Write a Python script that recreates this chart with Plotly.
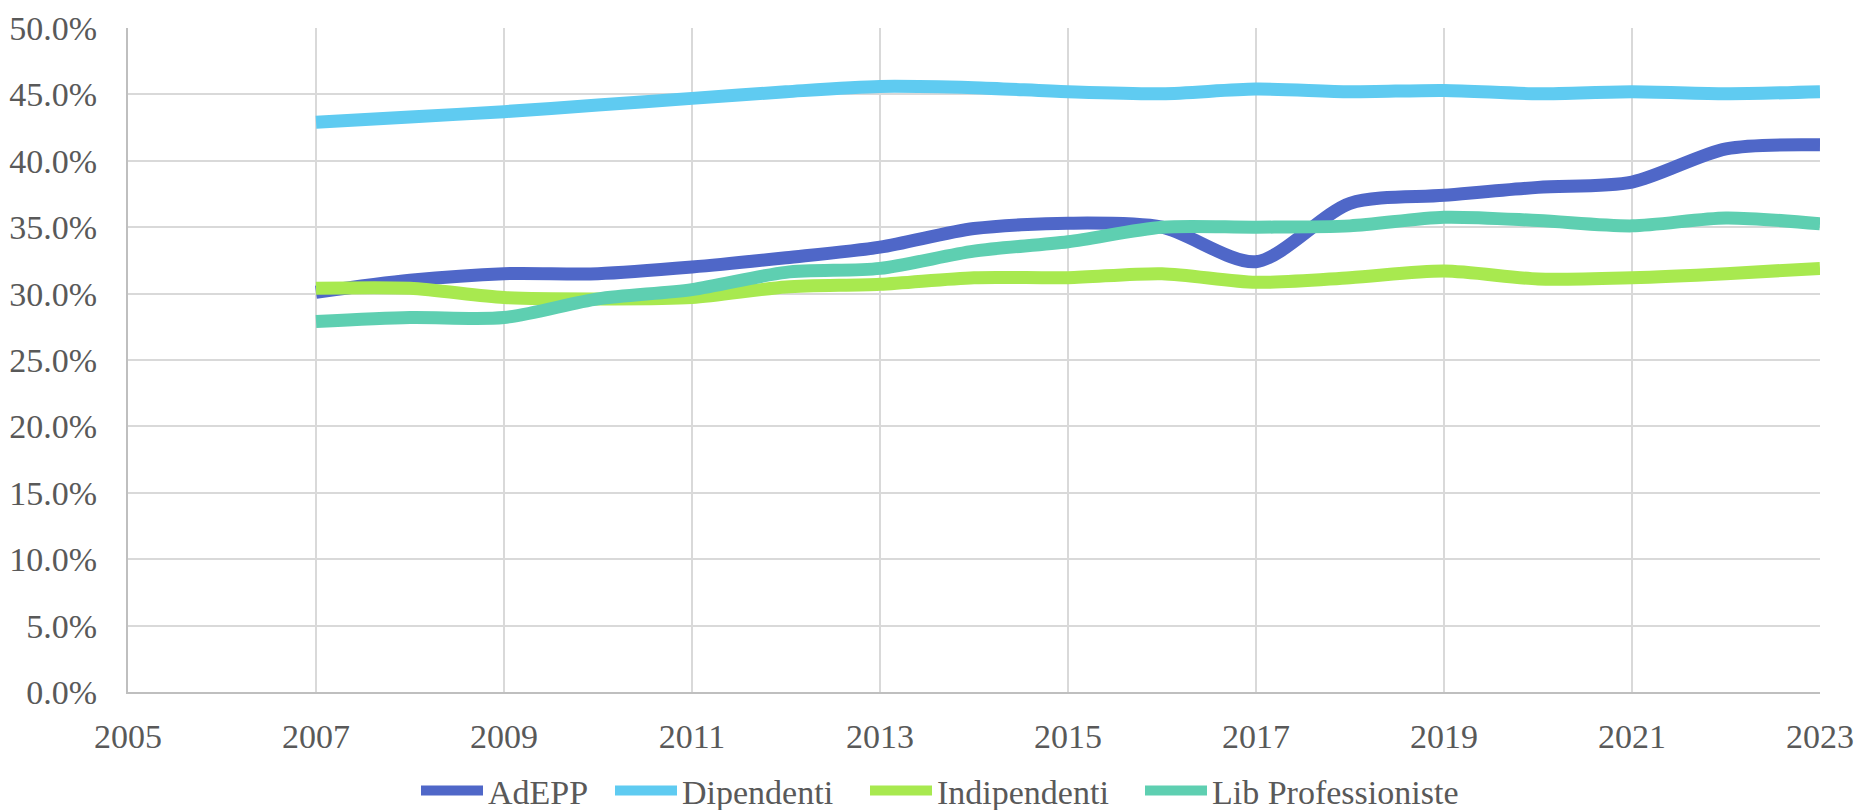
import plotly.graph_objects as go

years = list(range(2007, 2024))
adepp = [30.1, 31.0, 31.5, 31.5, 32.0, 32.7, 33.5, 34.9, 35.3, 35.0, 32.4, 36.8, 37.4, 38.0, 38.4, 40.9, 41.2]
dipendenti = [42.9, 43.3, 43.7, 44.2, 44.7, 45.2, 45.6, 45.5, 45.2, 45.05, 45.4, 45.2, 45.3, 45.05, 45.2, 45.05, 45.2]
indipendenti = [30.4, 30.4, 29.7, 29.6, 29.7, 30.5, 30.7, 31.2, 31.2, 31.5, 30.85, 31.2, 31.7, 31.1, 31.2, 31.5, 31.9]
lib_prof = [27.9, 28.2, 28.2, 29.6, 30.3, 31.6, 31.9, 33.2, 33.9, 35.0, 35.0, 35.1, 35.75, 35.5, 35.1, 35.7, 35.25]

series = [
    ("AdEPP", adepp, "#4F67C8"),
    ("Dipendenti", dipendenti, "#5FCBF1"),
    ("Indipendenti", indipendenti, "#A8E94F"),
    ("Lib Professioniste", lib_prof, "#5ECFB1"),
]
# legend entry left edges (px in figure) for each series
legend_px = [416, 610, 865, 1140]

FONT = "Liberation Serif"
TXT = "#595959"
FS = 34
L, R, T, B, W, H = 128, 40, 28, 118, 1860, 810
PW = W - L - R

fig = go.Figure()
legend_layouts = {}
for i, ((name, vals, col), px) in enumerate(zip(series, legend_px)):
    lg = "legend" if i == 0 else f"legend{i + 1}"
    fig.add_trace(go.Scatter(
        x=years, y=[v / 100 for v in vals], name=name, mode="lines", legend=lg,
        line=dict(color=col, width=13, shape="spline", smoothing=0.8),
    ))
    legend_layouts[lg] = dict(
        orientation="h", x=(px - L) / PW, xanchor="left", y=-0.149, yanchor="middle",
        font=dict(family=FONT, size=FS, color=TXT), itemwidth=62,
        bgcolor="rgba(0,0,0,0)", itemclick=False, itemdoubleclick=False,
    )

fig.update_layout(
    width=W, height=H,
    paper_bgcolor="white", plot_bgcolor="white",
    margin=dict(l=L, r=R, t=T, b=B, autoexpand=False),
    font=dict(family=FONT, size=FS, color=TXT),
    showlegend=True,
    **legend_layouts,
)
fig.update_xaxes(
    range=[2005, 2023], dtick=2, tick0=2005, showgrid=True, gridcolor="#D9D9D9", gridwidth=1.5,
    showline=True, linecolor="#BFBFBF", linewidth=2, zeroline=False, automargin=False,
    ticks="", ticklabelstandoff=13, tickfont=dict(family=FONT, size=FS, color=TXT),
)
fig.update_yaxes(
    range=[0, 0.5], dtick=0.05, tick0=0, tickformat=".1%", showgrid=True, gridcolor="#D9D9D9", gridwidth=1.5,
    showline=True, linecolor="#BFBFBF", linewidth=2, zeroline=False, automargin=False,
    ticks="", ticklabelstandoff=22, tickfont=dict(family=FONT, size=FS, color=TXT),
)

fig.write_html("out.html", config={"displayModeBar": False},
               post_script="document.body.style.margin='0';document.body.style.overflow='hidden';")
